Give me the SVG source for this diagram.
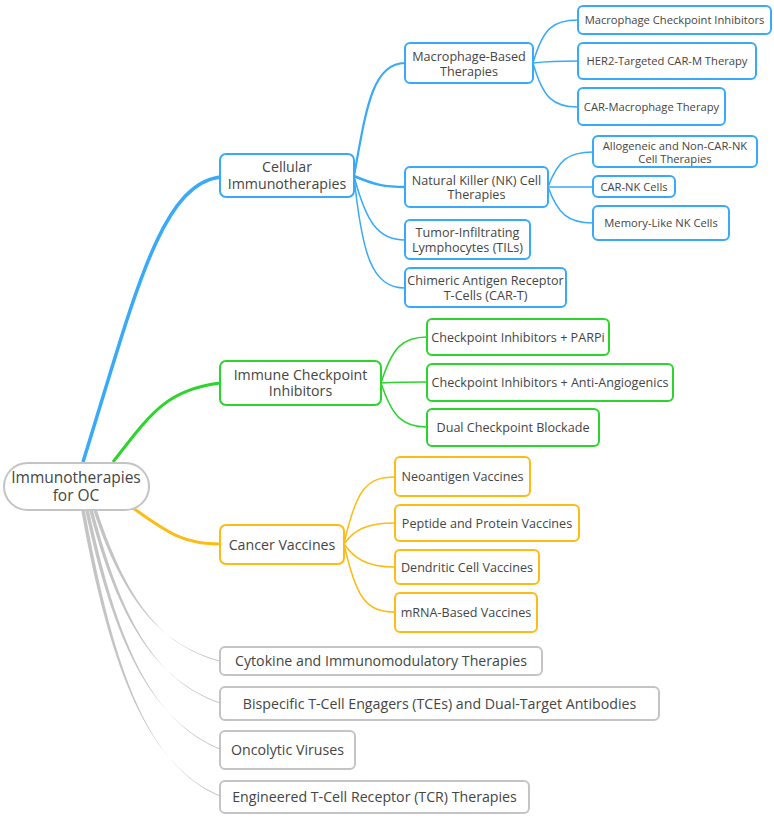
<svg xmlns="http://www.w3.org/2000/svg" width="774" height="819" viewBox="0 0 774 819">
<style>
text{font-family:"Open Sans","Noto Sans","Liberation Sans",sans-serif;fill:#454545;text-anchor:middle}
.t0{font-size:15.5px}.t1{font-size:14.2px}.t2{font-size:12.6px}.t3{font-size:11.2px}
.b{fill:#fff;stroke:#38aaf8;stroke-width:2}
.g{fill:#fff;stroke:#2bd52b;stroke-width:2}
.o{fill:#fff;stroke:#fdbb16;stroke-width:2}
.n{fill:#fff;stroke:#c4c4c4;stroke-width:2}
.cb{fill:none;stroke:#38aaf8}
.cg{fill:none;stroke:#2bd52b}
.co{fill:none;stroke:#fdbb16}
.fn{fill:#c4c4c4}
</style>
<rect width="774" height="819" fill="#fff"/>
<g id="connectors">
<path class="cb" stroke-width="3.5" d="M83 462 C135 295,160 185,220 177"/>
<path class="cg" stroke-width="3" d="M113 462 C150 415,165 390,220 383"/>
<path class="co" stroke-width="3" d="M130 506 C165 530,180 544,220 544"/>
<path class="fn" d="M93.2 510 C123.2 600,160 644.5,220 660.5 L220 661.5 C160 645.5,126.8 600,96.8 510 Z"/>
<path class="fn" d="M89.2 510 C118.2 620,155 679.5,220 702.5 L220 703.5 C155 680.5,121.8 620,92.8 510 Z"/>
<path class="fn" d="M85.2 510 C113.2 640,150 719.5,220 748.5 L220 749.5 C150 720.5,116.8 640,88.8 510 Z"/>
<path class="fn" d="M81.2 510 C108.2 660,145 764.5,220 795.5 L220 796.5 C145 765.5,111.8 660,84.8 510 Z"/>
<path class="cb" stroke-width="2.2" d="M354 176 C366 110,372 63,405 63"/>
<path class="cb" stroke-width="2.5" d="M354 176 C375 185,385 187,405 187"/>
<path class="cb" stroke-width="1.5" d="M354 176 C366 222,378 240,405 240"/>
<path class="cb" stroke-width="1.5" d="M354 176 C362 255,372 288,405 288"/>
<path class="cb" stroke-width="1.5" d="M533 63 C543 28,553 20,578 20"/>
<path class="cb" stroke-width="1.5" d="M533 63 C550 61,560 61,578 61"/>
<path class="cb" stroke-width="1.5" d="M533 63 C543 98,553 107,578 107"/>
<path class="cb" stroke-width="1.5" d="M548 187 C558 160,568 152,593 152"/>
<path class="cb" stroke-width="1.5" d="M548 187 C565 187,575 187,593 187"/>
<path class="cb" stroke-width="1.5" d="M548 187 C558 214,568 223,593 223"/>
<path class="cg" stroke-width="1.5" d="M381 383 C392 348,402 337,427 337"/>
<path class="cg" stroke-width="1.5" d="M381 383 C400 382,410 382,427 382"/>
<path class="cg" stroke-width="1.5" d="M381 383 C392 416,402 427,427 427"/>
<path class="co" stroke-width="1.5" d="M344 544 C356 490,366 477,395 477"/>
<path class="co" stroke-width="1.5" d="M344 544 C354 530,366 523,395 523"/>
<path class="co" stroke-width="1.5" d="M344 544 C354 558,366 567,395 567"/>
<path class="co" stroke-width="1.5" d="M344 544 C356 598,366 612,395 612"/>
</g>
<g id="root"><rect class="n" x="4" y="463" width="145" height="47" rx="23.5"/><text class="t0" x="76" y="482.5">Immunotherapies</text><text class="t0" x="76" y="500.5">for OC</text></g>
<g id="cellular"><rect class="b" x="220" y="154" width="134" height="43" rx="6"/><text class="t1" x="287" y="172">Cellular</text><text class="t1" x="287" y="188.5">Immunotherapies</text></g>
<g id="macrophage"><rect class="b" x="405" y="43" width="128" height="40" rx="5"/><text class="t2" x="469" y="61">Macrophage-Based</text><text class="t2" x="469" y="75.5">Therapies</text></g>
<g id="mci"><rect class="b" x="578" y="6" width="193" height="28" rx="5"/><text class="t3" x="674.5" y="24">Macrophage Checkpoint Inhibitors</text></g>
<g id="her2"><rect class="b" x="578" y="43" width="178" height="36" rx="5"/><text class="t3" x="667" y="65">HER2-Targeted CAR-M Therapy</text></g>
<g id="carm"><rect class="b" x="578" y="88" width="147" height="37" rx="5"/><text class="t3" x="651.5" y="110.5">CAR-Macrophage Therapy</text></g>
<g id="nk"><rect class="b" x="405" y="167" width="143" height="40" rx="5"/><text class="t2" x="476.5" y="184.5">Natural Killer (NK) Cell</text><text class="t2" x="476.5" y="199">Therapies</text></g>
<g id="allo"><rect class="b" x="593" y="136" width="164" height="31" rx="5"/><text class="t3" x="675" y="150">Allogeneic and Non-CAR-NK</text><text class="t3" x="675" y="162.5">Cell Therapies</text></g>
<g id="carnk"><rect class="b" x="593" y="176" width="82" height="21" rx="5"/><text class="t3" x="634" y="190.5">CAR-NK Cells</text></g>
<g id="memory"><rect class="b" x="593" y="206" width="136" height="34" rx="5"/><text class="t3" x="661" y="227">Memory-Like NK Cells</text></g>
<g id="tils"><rect class="b" x="405" y="220" width="125" height="39" rx="5"/><text class="t2" x="467.5" y="237">Tumor-Infiltrating</text><text class="t2" x="467.5" y="251.5">Lymphocytes (TILs)</text></g>
<g id="cart"><rect class="b" x="405" y="268" width="161" height="39" rx="5"/><text class="t2" x="485.5" y="285">Chimeric Antigen Receptor</text><text class="t2" x="485.5" y="299.5">T-Cells (CAR-T)</text></g>
<g id="ici"><rect class="g" x="220" y="361" width="161" height="44" rx="6"/><text class="t1" x="300.5" y="379.5">Immune Checkpoint</text><text class="t1" x="300.5" y="395.5">Inhibitors</text></g>
<g id="parpi"><rect class="g" x="427" y="319" width="182" height="36" rx="5"/><text class="t2" x="518" y="341.5">Checkpoint Inhibitors + PARPi</text></g>
<g id="antiang"><rect class="g" x="427" y="364" width="246" height="37" rx="5"/><text class="t2" x="550" y="387">Checkpoint Inhibitors + Anti-Angiogenics</text></g>
<g id="dual"><rect class="g" x="427" y="409" width="172" height="37" rx="5"/><text class="t2" x="513" y="432">Dual Checkpoint Blockade</text></g>
<g id="vaccines"><rect class="o" x="220" y="525" width="124" height="39" rx="6"/><text class="t1" x="282" y="549.5">Cancer Vaccines</text></g>
<g id="neo"><rect class="o" x="395" y="457" width="135" height="39" rx="5"/><text class="t2" x="462.5" y="481">Neoantigen Vaccines</text></g>
<g id="peptide"><rect class="o" x="395" y="505" width="184" height="36" rx="5"/><text class="t2" x="487" y="527.5">Peptide and Protein Vaccines</text></g>
<g id="dendritic"><rect class="o" x="395" y="550" width="144" height="34" rx="5"/><text class="t2" x="467" y="571.5">Dendritic Cell Vaccines</text></g>
<g id="mrna"><rect class="o" x="395" y="593" width="142" height="39" rx="5"/><text class="t2" x="466" y="617">mRNA-Based Vaccines</text></g>
<g id="cytokine"><rect class="n" x="220" y="647" width="322" height="28" rx="5"/><text class="t1" x="381" y="666">Cytokine and Immunomodulatory Therapies</text></g>
<g id="bispecific"><rect class="n" x="220" y="687" width="439" height="33" rx="5"/><text class="t1" x="439.5" y="708.5">Bispecific T-Cell Engagers (TCEs) and Dual-Target Antibodies</text></g>
<g id="oncolytic"><rect class="n" x="220" y="731" width="135" height="38" rx="5"/><text class="t1" x="287.5" y="755">Oncolytic Viruses</text></g>
<g id="tcr"><rect class="n" x="220" y="781" width="309" height="32" rx="5"/><text class="t1" x="374.5" y="802">Engineered T-Cell Receptor (TCR) Therapies</text></g>
</svg>
